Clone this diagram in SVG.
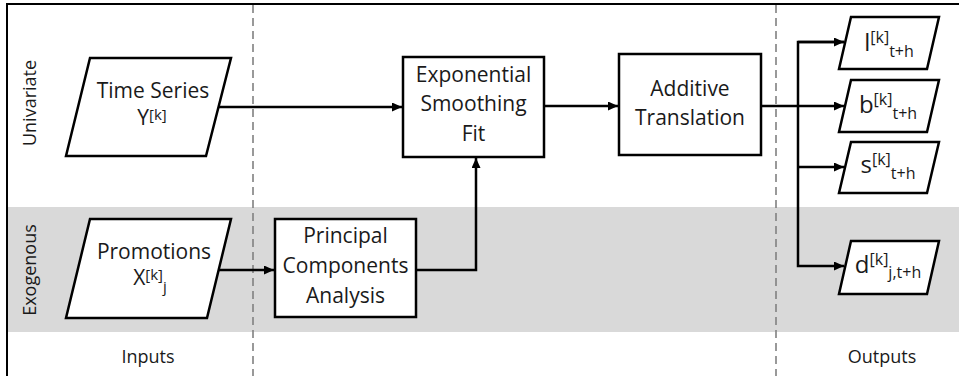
<svg xmlns="http://www.w3.org/2000/svg" width="959" height="376" viewBox="0 0 959 376">
<style>
text{font-family:"Open Sans","Liberation Sans",sans-serif;fill:#1a1a1a;text-anchor:middle}
.t{font-size:21px}
.t2{font-size:21px}
.o{font-size:24px}
.s{font-size:15px}
.so{font-size:16px}
.lab{font-size:18px}
.box{fill:#fff;stroke:#000;stroke-width:2.5;stroke-linejoin:miter}
.con{fill:none;stroke:#000;stroke-width:2.5}
.dash{stroke:#808080;stroke-width:1.6;stroke-dasharray:8,5;fill:none}
</style>
<defs>
<marker id="ah" markerUnits="userSpaceOnUse" markerWidth="10" markerHeight="9" refX="10" refY="4.5" orient="auto">
<path d="M0,0 L10,4.5 L0,9 z" fill="#000"/>
</marker>
</defs>
<rect x="0" y="0" width="959" height="376" fill="#fff"/>
<rect x="8" y="207" width="951" height="125" fill="#d9d9d9"/>
<path d="M7,376 V4 H959" fill="none" stroke="#000" stroke-width="2"/>
<line class="dash" x1="253" y1="5" x2="253" y2="376"/>
<line class="dash" x1="776" y1="5" x2="776" y2="376"/>
<text class="lab" transform="translate(36,103) rotate(-90)">Univariate</text>
<text class="lab" transform="translate(36,270) rotate(-90)">Exogenous</text>
<text class="lab" x="148" y="363">Inputs</text>
<text class="lab" x="882" y="363">Outputs</text>
<g id="connectors">
<line class="con" x1="219" y1="107" x2="402" y2="107" marker-end="url(#ah)"/>
<line class="con" x1="219" y1="270" x2="274" y2="270" marker-end="url(#ah)"/>
<polyline class="con" points="416,270 476,270 476,158" marker-end="url(#ah)"/>
<line class="con" x1="544" y1="106" x2="618" y2="106" marker-end="url(#ah)"/>
<line class="con" x1="761" y1="106" x2="844" y2="106" marker-end="url(#ah)"/>
<polyline class="con" points="844,42 798,42 798,266 844,266" marker-end="url(#ah)"/>
<line class="con" x1="798" y1="42" x2="844" y2="42" marker-end="url(#ah)"/>
<line class="con" x1="798" y1="167" x2="844" y2="167" marker-end="url(#ah)"/>
</g>
<g id="timeseries">
<polygon class="box" points="90,58 231,58 206,156 66,156"/>
<text class="t" x="153" y="98">Time Series</text>
<text class="t2" x="152" y="125">Y<tspan class="s" dy="-5">[k]</tspan></text>
</g>
<g id="promotions">
<polygon class="box" points="90,219 231,219 207,318 66,318"/>
<text class="t" x="154" y="259">Promotions</text>
<text class="t2" x="150" y="285">X<tspan class="s" dy="-5">[k]</tspan><tspan class="s" dy="12">j</tspan></text>
</g>
<g id="pca">
<rect class="box" x="275" y="219" width="141" height="98"/>
<text class="t" x="345.5" y="243">Principal</text>
<text class="t" x="345.5" y="273">Components</text>
<text class="t" x="345.5" y="303">Analysis</text>
</g>
<g id="esfit">
<rect class="box" x="403" y="57" width="141" height="100"/>
<text class="t" x="473.5" y="82">Exponential</text>
<text class="t" x="473.5" y="111">Smoothing</text>
<text class="t" x="473.5" y="141">Fit</text>
</g>
<g id="additive">
<rect class="box" x="619" y="54" width="142" height="101"/>
<text class="t" x="690" y="96">Additive</text>
<text class="t" x="690" y="125">Translation</text>
</g>
<g id="out-l">
<polygon class="box" points="851,17 939,17 927,69 839,69"/>
<text class="o" x="889" y="51">l<tspan class="so" dy="-8">[k]</tspan><tspan class="so" dy="14">t+h</tspan></text>
</g>
<g id="out-b">
<polygon class="box" points="851,80 939,80 927,132 839,132"/>
<text class="o" x="888" y="113">b<tspan class="so" dy="-8">[k]</tspan><tspan class="so" dy="14">t+h</tspan></text>
</g>
<g id="out-s">
<polygon class="box" points="851,142 939,142 927,193 839,193"/>
<text class="o" x="888" y="173">s<tspan class="so" dy="-8">[k]</tspan><tspan class="so" dy="14">t+h</tspan></text>
</g>
<g id="out-d">
<polygon class="box" points="851,241 939,241 927,294 839,294"/>
<text class="o" x="888" y="273">d<tspan class="so" dy="-8">[k]</tspan><tspan class="so" dy="13">j,t+h</tspan></text>
</g>
</svg>
